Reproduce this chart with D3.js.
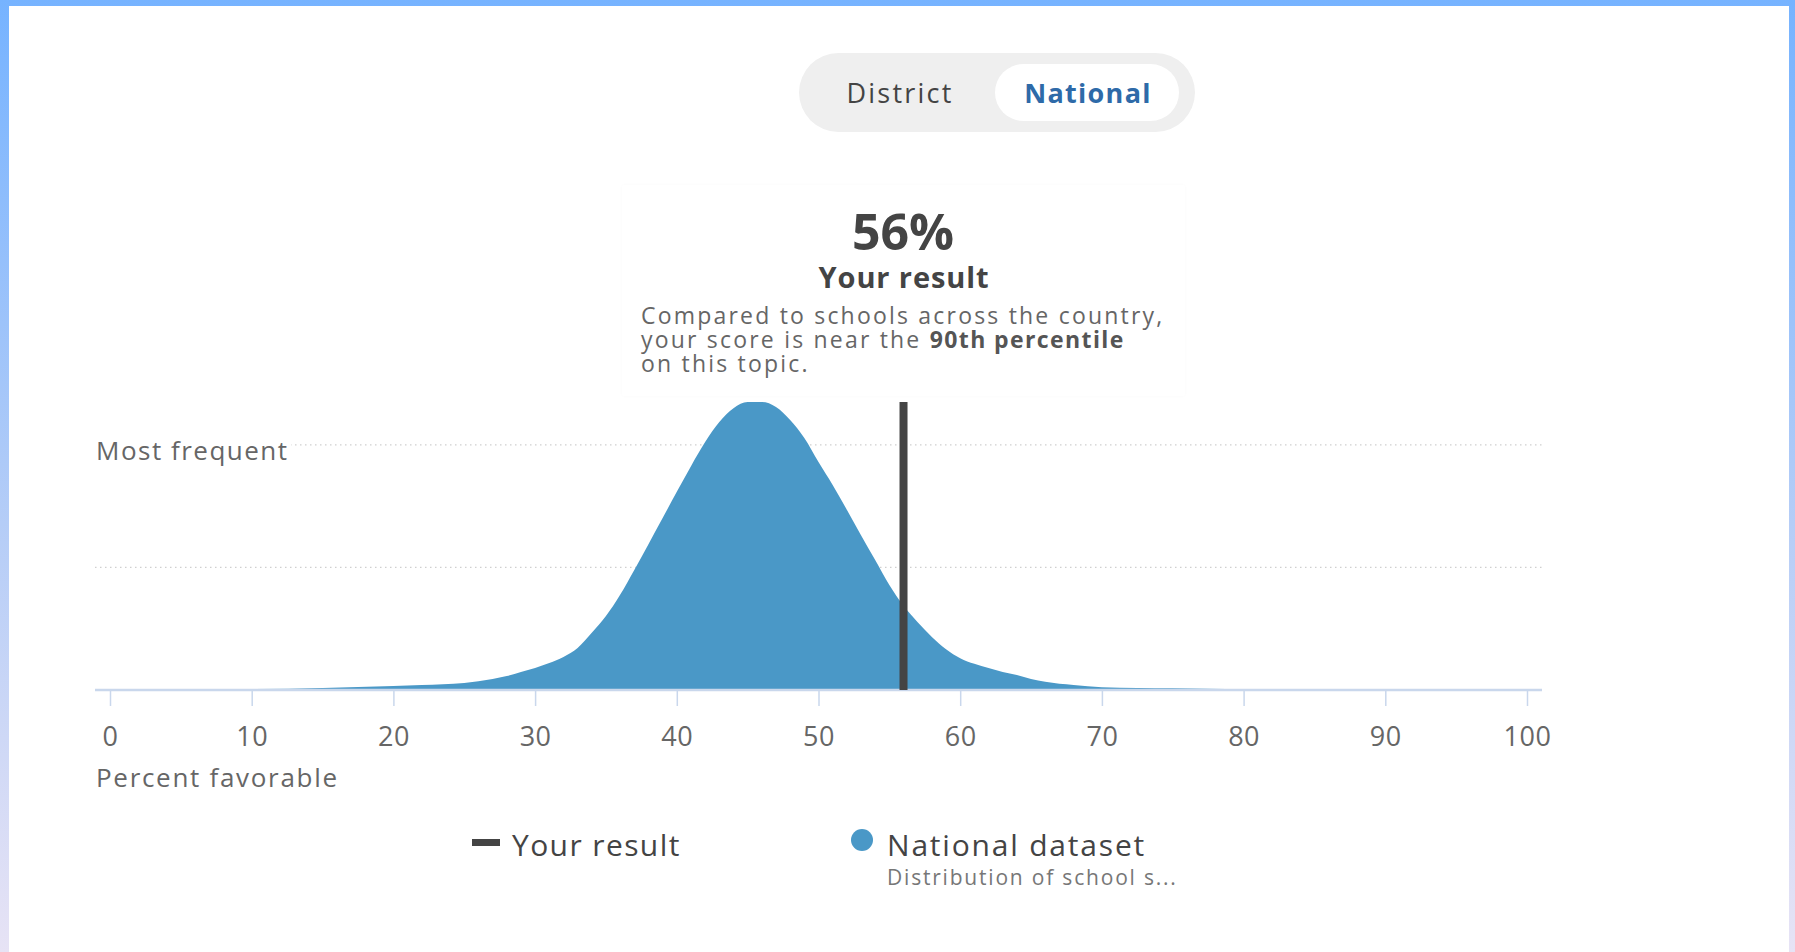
<!DOCTYPE html>
<html>
<head>
<meta charset="utf-8">
<script src="https://cdn.jsdelivr.net/npm/d3@7"></script>
<style>
  html, body { margin: 0; padding: 0; width: 1795px; height: 952px; overflow: hidden; }
  svg { display: block; font-family: "Open Sans", sans-serif; }
</style>
</head>
<body>
<svg id="chart" width="1795" height="952"></svg>
<script>
// ---- data ----
const scoreValues    = [0, 5, 10, 15, 20, 22, 25, 27, 28, 29, 30, 31, 32, 33, 34, 35, 36, 37, 38, 39, 40, 41, 42, 43, 44, 45, 46, 47, 48, 49, 50, 51, 52, 53, 54, 55, 56, 57, 58, 59, 60, 61, 62, 63, 64, 65, 66, 68, 70, 75, 80, 85, 90, 100];
const shareOfSchools = [0.01, 0.02, 0.025, 0.05, 0.10, 0.12, 0.17, 0.27, 0.34, 0.44, 0.54, 0.66, 0.81, 1.03, 1.40, 1.81, 2.33, 2.94, 3.57, 4.21, 4.85, 5.48, 6.07, 6.56, 6.90, 7.05, 7.05, 6.93, 6.61, 6.17, 5.58, 5.02, 4.41, 3.79, 3.18, 2.57, 2.06, 1.66, 1.30, 1.00, 0.78, 0.64, 0.54, 0.44, 0.37, 0.27, 0.20, 0.12, 0.07, 0.04, 0.02, 0.01, 0, 0];
const xTickValues = [0, 10, 20, 30, 40, 50, 60, 70, 80, 90, 100];
const gridValues  = [3, 6];
const yourResult  = 56;
const toggleLabels = ["District", "National"];
const legendLabels = ["Your result", "National dataset"];
const legendSubLabel = "Distribution of school s...";
const xAxisTitle = "Percent favorable";
const yAxisLabel = "Most frequent";
const cardLines = ["Compared to schools across the country,", "your score is near the ", "90th percentile", "on this topic."];

// ---- setup ----
const svg = d3.select("#chart");
const defs = svg.append("defs");
const grad = defs.append("linearGradient").attr("id", "bg").attr("x1", 0).attr("y1", 0).attr("x2", 0).attr("y2", 1);
grad.append("stop").attr("offset", "0%").attr("stop-color", "#76b3ff");
grad.append("stop").attr("offset", "55%").attr("stop-color", "#b5cdf7");
grad.append("stop").attr("offset", "100%").attr("stop-color", "#e7e3f5");
const shadow = defs.append("filter").attr("id", "cardShadow").attr("x", -0.05).attr("y", -0.05).attr("width", 1.1).attr("height", 1.1);
shadow.append("feDropShadow").attr("dx", 0).attr("dy", 0).attr("stdDeviation", 1.5).attr("flood-color", "#000").attr("flood-opacity", 0.025);

svg.append("rect").attr("width", 1795).attr("height", 952).attr("fill", "url(#bg)");
svg.append("rect").attr("x", 9).attr("y", 6).attr("width", 1780).attr("height", 946).attr("fill", "#ffffff");

// ---- toggle ----
svg.append("rect").attr("x", 799).attr("y", 53).attr("width", 396).attr("height", 79).attr("rx", 39.5).attr("fill", "#efefef");
svg.append("rect").attr("x", 995).attr("y", 64).attr("width", 184).attr("height", 57).attr("rx", 28.5).attr("fill", "#ffffff");
svg.append("text").attr("x", 900).attr("y", 103).attr("text-anchor", "middle")
  .attr("font-size", 27).attr("letter-spacing", 2.2).attr("fill", "#444").text(toggleLabels[0]);
svg.append("text").attr("x", 1088).attr("y", 103).attr("text-anchor", "middle")
  .attr("font-size", 27).attr("letter-spacing", 1.3).attr("font-weight", 700).attr("fill", "#2e6aa8").text(toggleLabels[1]);

// ---- scales ----
const x = d3.scaleLinear().domain([0, 100]).range([110, 1527]);
const y = d3.scaleLinear().domain([0, d3.max(shareOfSchools)]).range([690, 402]);

// gridlines
svg.append("g").selectAll("line").data(gridValues).join("line")
  .attr("x1", 95).attr("x2", 1542)
  .attr("y1", d => y(d)).attr("y2", d => y(d))
  .attr("stroke", "#cfcfcf").attr("stroke-width", 1.2).attr("stroke-dasharray", "1.5,3.5");

// "Most frequent" label with white backing
const mf = svg.append("g");
mf.append("rect").attr("x", 92).attr("y", y(6) - 6).attr("width", 199).attr("height", 12).attr("fill", "#fff");
mf.append("text").attr("x", 96).attr("y", 460).attr("font-size", 26).attr("letter-spacing", 1.5).attr("fill", "#666").text(yAxisLabel);

// area
const data = scoreValues.map((v, i) => ({ v, s: shareOfSchools[i] }));
const area = d3.area().x(d => x(d.v)).y0(y(0)).y1(d => y(d.s)).curve(d3.curveMonotoneX);
svg.append("path").datum(data).attr("d", area).attr("fill", "#4a98c7");

// baseline
svg.append("line").attr("x1", 95).attr("x2", 1542).attr("y1", 690).attr("y2", 690)
  .attr("stroke", "#c9d7ec").attr("stroke-width", 2.5);

// x axis
const xAxis = d3.axisBottom(x).tickValues(xTickValues).tickSize(16).tickPadding(0).tickFormat(d3.format("d"));
const gx = svg.append("g").attr("transform", "translate(0,690)").call(xAxis);
gx.select(".domain").remove();
gx.selectAll(".tick line").attr("stroke", "#c9d7ec").attr("stroke-width", 1.5);
gx.selectAll(".tick text").attr("y", 56).attr("dy", 0).attr("font-size", 27).attr("fill", "#666")
  .attr("font-family", "'Open Sans', sans-serif").attr("letter-spacing", 0.5);

svg.append("text").attr("x", 96).attr("y", 787).attr("font-size", 26).attr("letter-spacing", 1.7).attr("fill", "#666").text(xAxisTitle);

// your result line
svg.append("line").attr("x1", x(yourResult)).attr("x2", x(yourResult)).attr("y1", y.range()[1]).attr("y2", y(0))
  .attr("stroke", "#444").attr("stroke-width", 8);

// ---- card ----
svg.append("rect").attr("x", 622).attr("y", 185).attr("width", 563).attr("height", 211).attr("rx", 4)
  .attr("fill", "#fff").attr("filter", "url(#cardShadow)");
svg.append("text").attr("x", 903).attr("y", 250).attr("text-anchor", "middle").attr("font-size", 50)
  .attr("font-weight", 700).attr("fill", "#444").text(yourResult + "%");
svg.append("text").attr("x", 904).attr("y", 288).attr("text-anchor", "middle").attr("font-size", 29)
  .attr("letter-spacing", 0.9).attr("font-weight", 700).attr("fill", "#444").text(legendLabels[0]);
const body = svg.append("g").attr("font-size", 23).attr("fill", "#666").attr("letter-spacing", 2.2);
body.append("text").attr("x", 641).attr("y", 324).text(cardLines[0]);
const l2 = body.append("text").attr("x", 641).attr("y", 348);
l2.append("tspan").text(cardLines[1]);
l2.append("tspan").attr("font-weight", 700).attr("fill", "#555").attr("letter-spacing", 1.4).text(cardLines[2]);
body.append("text").attr("x", 641).attr("y", 372).text(cardLines[3]);

// ---- legend ----
svg.append("rect").attr("x", 472).attr("y", 839).attr("width", 28).attr("height", 7).attr("fill", "#444");
svg.append("text").attr("x", 512).attr("y", 856).attr("font-size", 30).attr("letter-spacing", 1.4).attr("fill", "#444").text(legendLabels[0]);
svg.append("circle").attr("cx", 862).attr("cy", 840).attr("r", 11).attr("fill", "#4a98c7");
svg.append("text").attr("x", 887).attr("y", 856).attr("font-size", 30).attr("letter-spacing", 1.8).attr("fill", "#444").text(legendLabels[1]);
svg.append("text").attr("x", 887).attr("y", 885).attr("font-size", 21).attr("letter-spacing", 1.8).attr("fill", "#777").text(legendSubLabel);
</script>
</body>
</html>
